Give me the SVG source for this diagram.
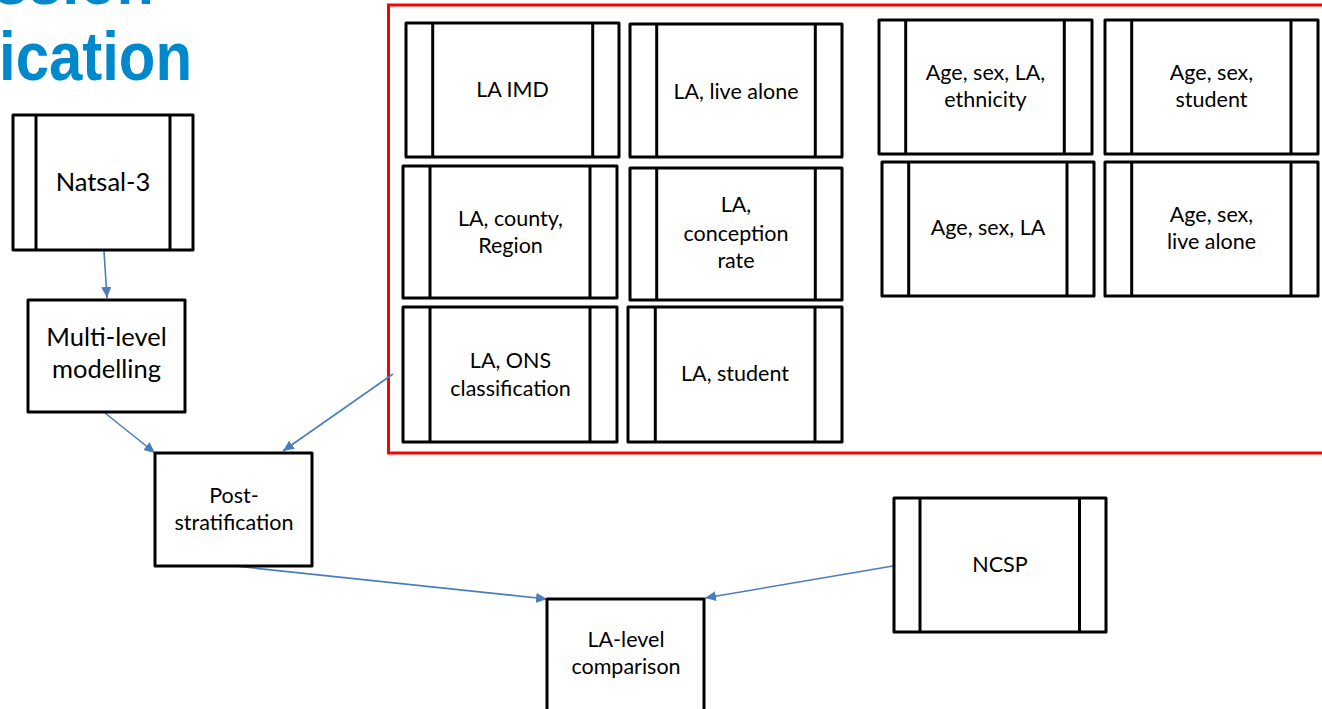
<svg xmlns="http://www.w3.org/2000/svg" width="1322" height="709" viewBox="0 0 1322 709">
  <style>
    .box { fill: #ffffff; stroke: #000000; stroke-width: 3; stroke-linejoin: round; }
    .bar { stroke: #000000; stroke-width: 3; }
    .t { font-family: Lato, "Liberation Sans", sans-serif; fill: #000000; text-anchor: middle; }
    .s { font-size: 21.5px; }
    .l { font-size: 25.5px; }
    .title { font-family: "Liberation Sans", Arial, sans-serif; font-weight: bold; font-size: 68px; fill: #0088cc; }
    .conn { fill: none; stroke: #4a7ebb; stroke-width: 1.6; marker-end: url(#arr); }
    .frame { fill: none; stroke: #ff0000; stroke-width: 3; }
  </style>
  <defs>
    <marker id="arr" markerUnits="userSpaceOnUse" markerWidth="12" markerHeight="10" refX="11" refY="5" orient="auto">
      <path d="M0,0 L11,5 L0,10 z" fill="#4a7ebb"/>
    </marker>
  </defs>
  <rect width="1322" height="709" fill="#ffffff"/>

  <g id="title">
    <text class="title" x="-6" y="4" textLength="160" lengthAdjust="spacingAndGlyphs">ssion</text>
    <text class="title" x="-1" y="80" textLength="193" lengthAdjust="spacingAndGlyphs">ication</text>
  </g>

  <g id="area">
    <rect class="frame" x="388.5" y="5" width="945" height="448"/>
  </g>

  <g id="connectors">
    <line class="conn" x1="104" y1="251" x2="107" y2="298"/>
    <line class="conn" x1="105" y1="413" x2="155" y2="453"/>
    <line class="conn" x1="393" y1="374" x2="283" y2="451"/>
    <line class="conn" x1="234" y1="566" x2="547" y2="599"/>
    <line class="conn" x1="893" y1="566" x2="705" y2="598"/>
  </g>

  <g id="natsal">
    <rect class="box" x="13" y="115" width="180" height="135"/>
    <line class="bar" x1="36" y1="115" x2="36" y2="250"/>
    <line class="bar" x1="170" y1="115" x2="170" y2="250"/>
    <text class="t l" x="103" y="190.7">Natsal-3</text>
  </g>

  <g id="multilevel">
    <rect class="box" x="28" y="300" width="157" height="112"/>
    <text class="t l" x="106.5" y="346">Multi-level</text>
    <text class="t l" x="106.5" y="378">modelling</text>
  </g>

  <g id="poststrat">
    <rect class="box" x="155" y="453" width="157" height="113"/>
    <text class="t s" x="234" y="502.7">Post-</text>
    <text class="t s" x="234" y="530">stratification</text>
  </g>

  <g id="lalevel">
    <rect class="box" x="547" y="599" width="157" height="130"/>
    <text class="t s" x="626" y="646.7">LA-level</text>
    <text class="t s" x="626" y="674.3">comparison</text>
  </g>

  <g id="ncsp">
    <rect class="box" x="894" y="498" width="212" height="134"/>
    <line class="bar" x1="920" y1="498" x2="920" y2="632"/>
    <line class="bar" x1="1079.5" y1="498" x2="1079.5" y2="632"/>
    <text class="t s" x="1000" y="571.7">NCSP</text>
  </g>

  <g id="la-imd">
    <rect class="box" x="406" y="23" width="213" height="134"/>
    <line class="bar" x1="432.7" y1="23" x2="432.7" y2="157"/>
    <line class="bar" x1="592.7" y1="23" x2="592.7" y2="157"/>
    <text class="t s" x="512.5" y="97.3">LA IMD</text>
  </g>

  <g id="la-live-alone">
    <rect class="box" x="630" y="24" width="212" height="133"/>
    <line class="bar" x1="656.7" y1="24" x2="656.7" y2="157"/>
    <line class="bar" x1="815.3" y1="24" x2="815.3" y2="157"/>
    <text class="t s" x="736" y="98.7">LA, live alone</text>
  </g>

  <g id="la-county">
    <rect class="box" x="403" y="166" width="214" height="132"/>
    <line class="bar" x1="430" y1="166" x2="430" y2="298"/>
    <line class="bar" x1="590" y1="166" x2="590" y2="298"/>
    <text class="t s" x="510.5" y="225.7">LA, county,</text>
    <text class="t s" x="510.5" y="253.3">Region</text>
  </g>

  <g id="la-conception">
    <rect class="box" x="630" y="168" width="212" height="132"/>
    <line class="bar" x1="656.7" y1="168" x2="656.7" y2="300"/>
    <line class="bar" x1="815.3" y1="168" x2="815.3" y2="300"/>
    <text class="t s" x="736" y="212.3">LA,</text>
    <text class="t s" x="736" y="240.7">conception</text>
    <text class="t s" x="736" y="268.3">rate</text>
  </g>

  <g id="la-ons">
    <rect class="box" x="403" y="307" width="214" height="135"/>
    <line class="bar" x1="430" y1="307" x2="430" y2="442"/>
    <line class="bar" x1="590" y1="307" x2="590" y2="442"/>
    <text class="t s" x="510.5" y="367.7">LA, ONS</text>
    <text class="t s" x="510.5" y="395.7">classification</text>
  </g>

  <g id="la-student">
    <rect class="box" x="628" y="307" width="214" height="135"/>
    <line class="bar" x1="655.3" y1="307" x2="655.3" y2="442"/>
    <line class="bar" x1="815" y1="307" x2="815" y2="442"/>
    <text class="t s" x="735" y="381">LA, student</text>
  </g>

  <g id="age-ethnicity">
    <rect class="box" x="879" y="20" width="213" height="134"/>
    <line class="bar" x1="905.7" y1="20" x2="905.7" y2="154"/>
    <line class="bar" x1="1064.3" y1="20" x2="1064.3" y2="154"/>
    <text class="t s" x="985.5" y="80">Age, sex, LA,</text>
    <text class="t s" x="985.5" y="107.3">ethnicity</text>
  </g>

  <g id="age-student">
    <rect class="box" x="1105" y="20" width="213" height="134"/>
    <line class="bar" x1="1131.7" y1="20" x2="1131.7" y2="154"/>
    <line class="bar" x1="1291" y1="20" x2="1291" y2="154"/>
    <text class="t s" x="1211.5" y="80">Age, sex,</text>
    <text class="t s" x="1211.5" y="107.3">student</text>
  </g>

  <g id="age-la">
    <rect class="box" x="882" y="162" width="212" height="134"/>
    <line class="bar" x1="908.7" y1="162" x2="908.7" y2="296"/>
    <line class="bar" x1="1067" y1="162" x2="1067" y2="296"/>
    <text class="t s" x="988" y="235.3">Age, sex, LA</text>
  </g>

  <g id="age-live-alone">
    <rect class="box" x="1105" y="162" width="213" height="134"/>
    <line class="bar" x1="1131.7" y1="162" x2="1131.7" y2="296"/>
    <line class="bar" x1="1291" y1="162" x2="1291" y2="296"/>
    <text class="t s" x="1211.5" y="221.7">Age, sex,</text>
    <text class="t s" x="1211.5" y="249.3">live alone</text>
  </g>
</svg>
